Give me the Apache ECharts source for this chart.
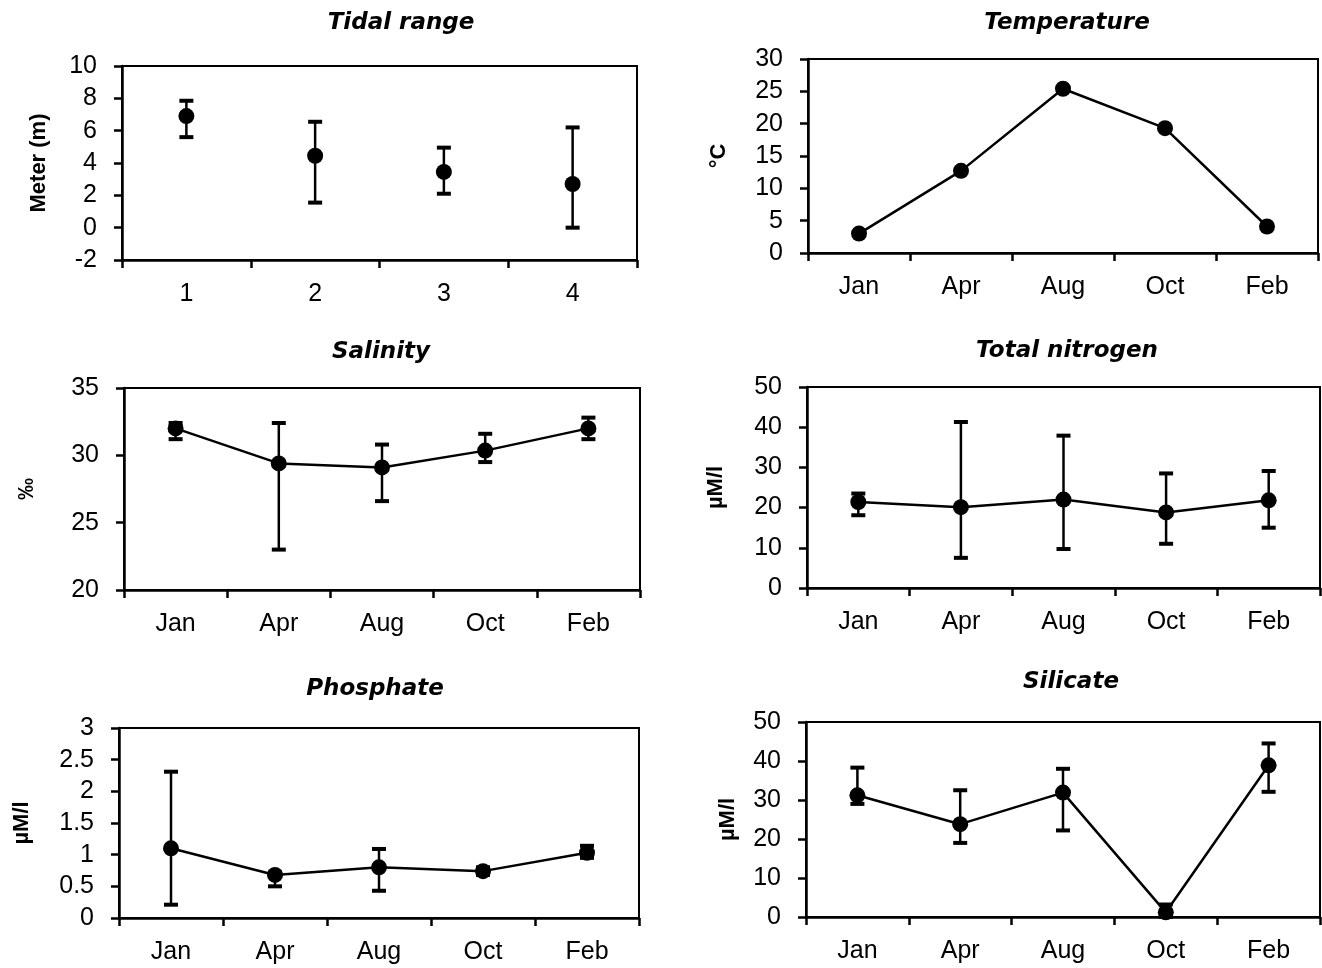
<!DOCTYPE html>
<html><head><meta charset="utf-8">
<script src="https://cdn.jsdelivr.net/npm/echarts@6/dist/echarts.min.js"></script>
<style>html,body{margin:0;padding:0;background:#fff}#c{width:1322px;height:968px}</style>
</head><body><div id="c"></div>
<script>
// ---- data ----
const tidalCats = ['1', '2', '3', '4'];
const months = ['Jan', 'Apr', 'Aug', 'Oct', 'Feb'];

const tidalMean = [6.9, 4.45, 3.45, 2.7];
const tidalLow  = [5.6, 1.55, 2.1, 0.0];
const tidalHigh = [7.85, 6.55, 4.95, 6.2];

const tempMean = [3.0, 12.7, 25.4, 19.3, 4.1];

const salMean = [32.0, 29.4, 29.1, 30.35, 32.0];
const salLow  = [31.2, 23.0, 26.6, 29.5, 31.2];
const salHigh = [32.4, 32.4, 30.8, 31.6, 32.8];

const tnMean = [21.4, 20.1, 22.0, 18.8, 21.8];
const tnLow  = [18.1, 7.5, 9.7, 11.0, 15.0];
const tnHigh = [23.5, 41.3, 37.9, 28.5, 29.1];

const phMean = [1.1, 0.68, 0.8, 0.74, 1.03];
const phLow  = [0.21, 0.5, 0.43, 0.68, 0.95];
const phHigh = [2.31, 0.72, 1.09, 0.8, 1.14];

const siMean = [31.2, 23.8, 31.9, 1.2, 38.9];
const siLow  = [29.0, 19.0, 22.2, 0.0, 32.1];
const siHigh = [38.3, 32.5, 38.0, 3.2, 44.5];

// ---- layout ----
const FONT = 'Liberation Sans, Arial, sans-serif';
const TFONT = 'DejaVu Sans, sans-serif';
const panels = [
  {title: 'Tidal range', tx: 396, ty: 7, grid: {left: 122, top: 66, width: 515, height: 194},
   cats: tidalCats, min: -2, max: 10, interval: 2, name: 'Meter (m)', nameGap: 72,
   mean: tidalMean, low: tidalLow, high: tidalHigh, line: false},
  {title: 'Temperature', tx: 1062, ty: 7, grid: {left: 808, top: 59, width: 510, height: 194},
   cats: months, min: 0, max: 30, interval: 5, name: '°C', nameGap: 78,
   mean: tempMean, low: null, high: null, line: true},
  {title: 'Salinity', tx: 376, ty: 336, grid: {left: 124, top: 388, width: 516, height: 202},
   cats: months, min: 20, max: 35, interval: 5, name: '‰', nameGap: 86,
   mean: salMean, low: salLow, high: salHigh, line: true},
  {title: 'Total nitrogen', tx: 1062, ty: 335, grid: {left: 807, top: 387, width: 513, height: 201},
   cats: months, min: 0, max: 50, interval: 10, name: 'µM/l', nameGap: 80,
   mean: tnMean, low: tnLow, high: tnHigh, line: true},
  {title: 'Phosphate', tx: 370, ty: 673, grid: {left: 119, top: 728, width: 520, height: 190},
   cats: months, min: 0, max: 3, interval: 0.5, name: 'µM/l', nameGap: 86,
   mean: phMean, low: phLow, high: phHigh, line: true},
  {title: 'Silicate', tx: 1066, ty: 666, grid: {left: 806, top: 722, width: 514, height: 195},
   cats: months, min: 0, max: 50, interval: 10, name: 'µM/l', nameGap: 67,
   mean: siMean, low: siLow, high: siHigh, line: true}
];

const option = {
  animation: false,
  backgroundColor: '#fff',
  title: [], grid: [], xAxis: [], yAxis: [], series: []
};

function errRender(params, api) {
  const x = api.value(0);
  const lo = api.coord([x, api.value(1)]);
  const hi = api.coord([x, api.value(2)]);
  const w = 7;
  return {type: 'group', children: [
    {type: 'line', shape: {x1: lo[0], y1: lo[1], x2: hi[0], y2: hi[1]}, style: {stroke: '#000', lineWidth: 2.5}},
    {type: 'line', shape: {x1: lo[0] - w, y1: lo[1], x2: lo[0] + w, y2: lo[1]}, style: {stroke: '#000', lineWidth: 4}},
    {type: 'line', shape: {x1: hi[0] - w, y1: hi[1], x2: hi[0] + w, y2: hi[1]}, style: {stroke: '#000', lineWidth: 4}}
  ]};
}

panels.forEach((p, i) => {
  option.title.push({
    text: p.title, left: p.tx, top: p.ty, textAlign: 'center',
    textStyle: {fontFamily: TFONT, fontSize: 23, fontWeight: 'bold', fontStyle: 'italic', color: '#000'}
  });
  option.grid.push(Object.assign({show: true, borderColor: '#000', borderWidth: 2, backgroundColor: 'transparent'}, p.grid));
  option.xAxis.push({
    type: 'category', gridIndex: i, data: p.cats, boundaryGap: true,
    axisLine: {show: true, onZero: false, lineStyle: {color: '#000', width: 2.5}},
    axisTick: {show: true, length: 8, lineStyle: {color: '#000', width: 2.5}},
    axisLabel: {color: '#000', fontFamily: FONT, fontSize: 25, margin: 22},
    splitLine: {show: false}
  });
  option.yAxis.push({
    type: 'value', gridIndex: i, min: p.min, max: p.max, interval: p.interval,
    name: p.name, nameLocation: 'middle', nameGap: p.nameGap, nameRotate: 90,
    nameTextStyle: {fontFamily: FONT, fontSize: 22, fontWeight: 'bold', color: '#000'},
    axisLine: {show: true, lineStyle: {color: '#000', width: 2.5}},
    axisTick: {show: true, length: 8, lineStyle: {color: '#000', width: 2.5}},
    axisLabel: {color: '#000', fontFamily: FONT, fontSize: 25, margin: 25},
    splitLine: {show: false}
  });
  if (p.low) {
    option.series.push({
      type: 'custom', xAxisIndex: i, yAxisIndex: i,
      renderItem: errRender, encode: {x: 0, y: [1, 2]}, z: 3,
      data: p.cats.map((c, k) => [k, p.low[k], p.high[k]])
    });
  }
  option.series.push({
    type: 'line', xAxisIndex: i, yAxisIndex: i, data: p.mean,
    symbol: 'circle', symbolSize: 16, z: 4,
    itemStyle: {color: '#000'},
    lineStyle: {color: '#000', width: p.line ? 2.5 : 0, opacity: p.line ? 1 : 0}
  });
});

const chart = echarts.init(document.getElementById('c'), null, {renderer: 'canvas'});
chart.setOption(option);
</script>
</body></html>
